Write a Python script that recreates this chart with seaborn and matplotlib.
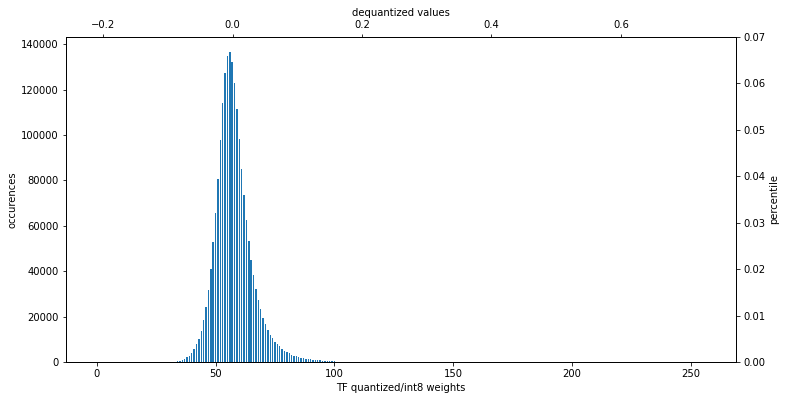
import numpy as np
import pandas as pd
import matplotlib
matplotlib.use("Agg")
import matplotlib.pyplot as plt
import seaborn as sns

# int8 quantized weight values and their occurrence counts
q_values = list(range(34, 101))
counts = [
    440, 500, 880, 1320, 2200, 2640, 4100, 5700, 7900, 10100,
    13800, 18500, 24200, 31700, 40900, 52800, 65600, 80500, 97700, 114000,
    127400, 134700, 136400, 132000, 122800, 111300, 98100, 84900, 73500, 62500,
    53200, 44900, 38300, 32100, 27300, 23300, 19400, 16700, 14100, 11900,
    10600, 8800, 7900, 7000, 5700, 4800, 4400, 4000, 3100, 2600,
    2600, 2200, 1800, 1800, 1300, 1300, 1300, 880, 880, 880,
    880, 600, 440, 440, 440, 440, 440,
]
# quantization parameters
scale = 0.003674
zero_point = 57.17

x_label = "TF quantized/int8 weights"
y_label = "occurences"
top_label = "dequantized values"
right_label = "percentile"

df = pd.DataFrame({"q": q_values, "count": counts})
total = df["count"].sum()

DPI = 72
fig = plt.figure(figsize=(785 / DPI, 400 / DPI), dpi=DPI)
ax = fig.add_subplot(111)
fig.subplots_adjust(left=66 / 785, right=736 / 785, top=1 - 37 / 400, bottom=1 - 362 / 400)

sns.barplot(data=df, x="q", y="count", native_scale=True, color="#1f77b4",
            saturation=1, ax=ax, errorbar=None, width=0.6)
ax.set_xlim(-12.9, 268.9)
ax.set_ylim(0, df["count"].max() * 1.05)
ax.set_xticks([0, 50, 100, 150, 200, 250])
ax.set_yticks(np.arange(0, 140001, 20000))
ax.set_xlabel(x_label)
ax.set_ylabel(y_label)

# right axis: fraction of all weights
ax2 = ax.twinx()
ax2.set_ylim(0, 0.07)
ax2.set_yticks(np.arange(0, 0.0701, 0.01))
ax2.set_yticklabels([f"{v:.2f}" for v in np.arange(0, 0.0701, 0.01)])
ax2.set_ylabel(right_label)

# top axis: dequantized values
ax3 = ax.twiny()
lo, hi = ax.get_xlim()
ax3.set_xlim(scale * (lo - zero_point), scale * (hi - zero_point))
ax3.set_xticks([-0.2, 0.0, 0.2, 0.4, 0.6])
ax3.set_xlabel(top_label)

fig.savefig("out.png", dpi=DPI)
